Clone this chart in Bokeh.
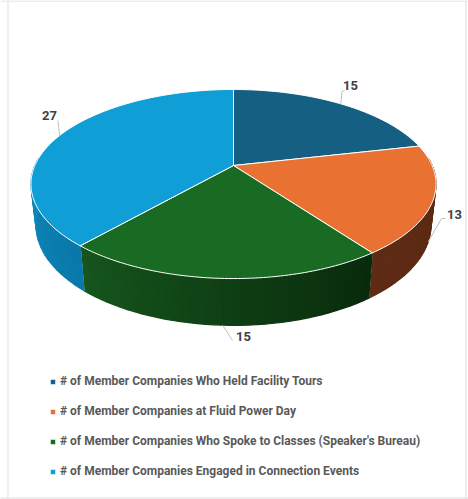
import math
from bokeh.plotting import figure
from bokeh.models import Range1d, Legend, LegendItem, Span
from bokeh.core.properties import value
from bokeh.embed import file_html
from bokeh.resources import INLINE

# ---- data ----
labels = ["# of Member Companies Who Held Facility Tours",
          "# of Member Companies at Fluid Power Day",
          "# of Member Companies Who Spoke to Classes (Speaker's Bureau)",
          "# of Member Companies Engaged in Connection Events"]
values = [15, 13, 15, 27]
top_colors = ["#156082", "#E97132", "#196B24", "#0F9ED5"]
side_left = ["#0d3d52", "#5e2b14", "#16561d", "#0e8cbf"]
side_right = ["#0d3d52", "#5a2912", "#082a0b", "#0a78a8"]

W, H = 468, 499
FONT = "Roboto"

# perspective disc projection
CX, CY, A, B, K = 233.0, 165.0, 90.9, 198.6, 0.196
SX, SY, DROP = 0.975, 1.06, 40.0


def rim(theta):
    s, c = math.sin(theta), math.cos(theta)
    w = 1 + K * c
    return CX + B * s / w, CY - A * c / w


def low(theta):
    x, y = rim(theta)
    return CX + SX * (x - CX), CY + DROP + SY * (y - CY)


p = figure(width=W, height=H, output_backend="svg", toolbar_location=None,
           x_range=Range1d(0, W), y_range=Range1d(H, 0),
           min_border=0, background_fill_color="white", outline_line_color=None)
p.axis.visible = False
p.grid.visible = False
for loc, dim in ((7.5, "height"), (465.5, "height"), (0.5, "width"), (497.5, "width")):
    p.add_layout(Span(location=loc, dimension=dim, line_color="#e8e8e8", line_width=1.5))

total = sum(values)
starts, ends = [], []
acc = 0
for v in values:
    starts.append(2 * math.pi * acc / total)
    acc += v
    ends.append(2 * math.pi * acc / total)


def hexmix(a, b, t):
    ca = [int(a[i:i + 2], 16) for i in (1, 3, 5)]
    cb = [int(b[i:i + 2], 16) for i in (1, 3, 5)]
    return "#%02x%02x%02x" % tuple(round(x + (y - x) * t) for x, y in zip(ca, cb))


# visible sides (front part of the disc)
vis_a, vis_b = math.radians(85), math.radians(275)
for i in range(len(values)):
    a = max(starts[i], vis_a)
    b = min(ends[i], vis_b)
    if b <= a:
        continue
    n = max(2, int((b - a) / math.radians(2)))
    xs, ys, cols = [], [], []
    for j in range(n):
        t0 = a + (b - a) * j / n
        t1 = a + (b - a) * (j + 1) / n
        p0, p1, q1, q0 = rim(t0), rim(t1), low(t1), low(t0)
        xs.append([p0[0], p1[0], q1[0], q0[0]])
        ys.append([p0[1], p1[1], q1[1], q0[1]])
        # shade by screen position: brighter at the left
        cols.append(hexmix(side_right[i], side_left[i], ((t0 + t1) / 2 - a) / (b - a)))
    p.patches(xs, ys, fill_color=cols, line_color=cols, line_width=1.2)
    # white seam at the slice end
    if ends[i] < vis_b:
        e = ends[i]
        p.line([rim(e)[0], low(e)[0]], [rim(e)[1], low(e)[1]], line_color="#e8e8e8", line_width=1)

# top faces
tops = []
for i in range(len(values)):
    a, b = starts[i], ends[i]
    n = max(2, int((b - a) / math.radians(1)))
    pts = [rim(a + (b - a) * j / n) for j in range(n + 1)]
    xs = [CX] + [q[0] for q in pts]
    ys = [CY] + [q[1] for q in pts]
    r = p.patch(xs, ys, fill_color=top_colors[i], line_color="white", line_width=1)
    tops.append(r)

# leader lines + value labels
label_pos = [(350, 85), (454, 214), (243, 336), (49, 115)]
elbows = [[(341.5, 91), (344, 90)], [(441, 218), (445, 218)], [(232, 340)], [(57.5, 120)]]
for i, v in enumerate(values):
    mid = (starts[i] + ends[i]) / 2
    anchor = low(mid) if i in (1, 2) else rim(mid)
    path = [anchor] + elbows[i]
    p.line([q[0] for q in path], [q[1] for q in path], line_color="#bfbfbf", line_width=1)
    p.text([label_pos[i][0]], [label_pos[i][1]], text=[str(v)], text_align="center",
           text_baseline="middle", text_font=value(FONT), text_font_size="13px",
           text_font_style="bold", text_color="#404040")

legend = Legend(items=[LegendItem(label=labels[i], renderers=[tops[i]]) for i in range(len(values))],
                location=(49, 21), orientation="vertical", background_fill_alpha=0,
                border_line_color=None, glyph_width=7, glyph_height=7, label_standoff=4,
                spacing=16, label_text_font=FONT, label_text_font_size="12px",
                label_text_font_style="bold", label_text_color="#595959",
                padding=0, margin=0)
p.add_layout(legend, "center")

open("out.html", "w").write(file_html(p, INLINE))
